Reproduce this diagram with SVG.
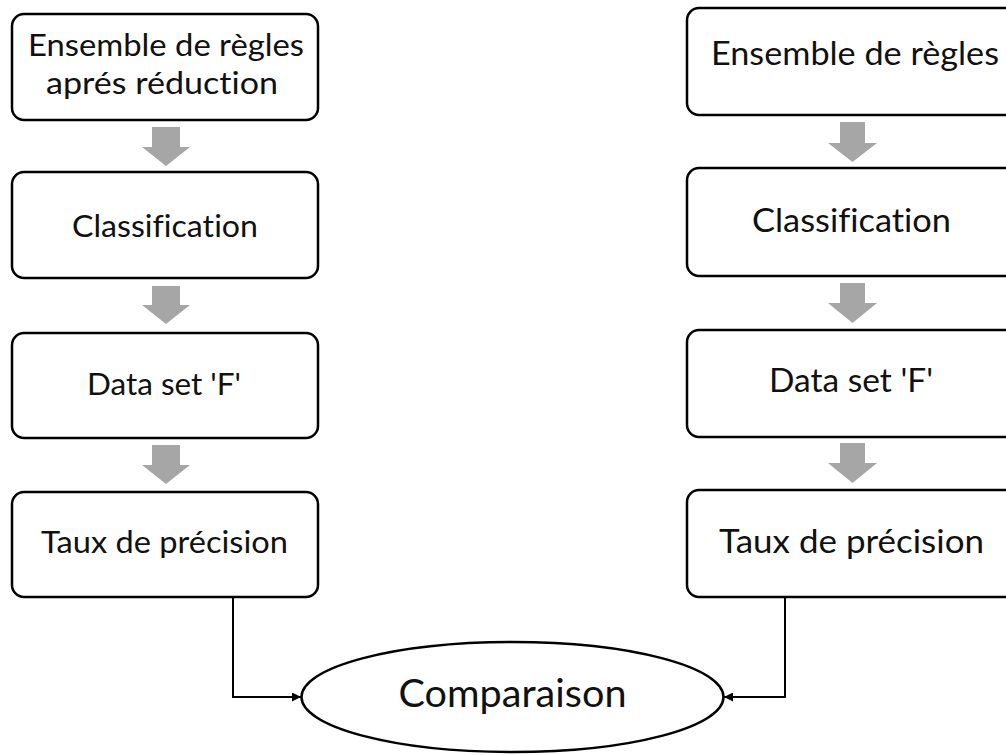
<svg xmlns="http://www.w3.org/2000/svg" width="1006" height="755" viewBox="0 0 1006 755">
  <style>
    .box { fill: #ffffff; stroke: #000000; stroke-width: 2.5; }
    .blk { fill: #a6a6a6; stroke: none; }
    .conn { fill: none; stroke: #000000; stroke-width: 2; }
    .t { font-family: Lato, "Open Sans", "Liberation Sans", sans-serif; fill: #111111; text-anchor: middle; font-variant-ligatures: none; font-feature-settings: "liga" 0, "dlig" 0; }
    .tl { font-size: 31.5px; }
    .tr { font-size: 33.5px; }
    .tc { font-size: 38px; }
  </style>
  <defs>
    <marker id="ah" viewBox="0 0 10 10" refX="10" refY="5" markerWidth="10" markerHeight="9" markerUnits="userSpaceOnUse" orient="auto">
      <path d="M0,0 L10,5 L0,10 z" fill="#000000"/>
    </marker>
  </defs>
  <rect width="1006" height="755" fill="#ffffff"/>

  <!-- Left column -->
  <g id="l-regles-reduction">
    <rect class="box" x="12" y="14" width="306" height="106" rx="12"/>
    <text class="t tl" x="166" y="56" textLength="276" lengthAdjust="spacingAndGlyphs">Ensemble de règles</text>
    <text class="t tl" x="162" y="94" textLength="232" lengthAdjust="spacingAndGlyphs">aprés réduction</text>
  </g>
  <g id="l-classification">
    <rect class="box" x="12" y="172" width="306" height="106" rx="12"/>
    <text class="t tl" x="165" y="237" textLength="186" lengthAdjust="spacingAndGlyphs">Classification</text>
  </g>
  <g id="l-dataset">
    <rect class="box" x="12" y="333" width="306" height="105" rx="12"/>
    <text class="t tl" x="164" y="395" textLength="154" lengthAdjust="spacingAndGlyphs">Data set 'F'</text>
  </g>
  <g id="l-taux">
    <rect class="box" x="12" y="492" width="306" height="105" rx="12"/>
    <text class="t tl" x="164.5" y="553" textLength="247" lengthAdjust="spacingAndGlyphs">Taux de précision</text>
  </g>

  <!-- Right column -->
  <g id="r-regles">
    <rect class="box" x="687" y="8" width="330" height="107" rx="12"/>
    <text class="t tr" x="855" y="65" textLength="288" lengthAdjust="spacingAndGlyphs">Ensemble de règles</text>
  </g>
  <g id="r-classification">
    <rect class="box" x="687" y="168" width="330" height="108" rx="12"/>
    <text class="t tr" x="851.5" y="232" textLength="199" lengthAdjust="spacingAndGlyphs">Classification</text>
  </g>
  <g id="r-dataset">
    <rect class="box" x="687" y="330" width="330" height="107" rx="12"/>
    <text class="t tr" x="851" y="392" textLength="164" lengthAdjust="spacingAndGlyphs">Data set 'F'</text>
  </g>
  <g id="r-taux">
    <rect class="box" x="687" y="490" width="330" height="107" rx="12"/>
    <text class="t tr" x="851.5" y="553" textLength="265" lengthAdjust="spacingAndGlyphs">Taux de précision</text>
  </g>

  <!-- Comparison node -->
  <g id="comparaison">
    <ellipse class="box" cx="512.5" cy="697" rx="211" ry="55"/>
    <text class="t tc" x="512.5" y="707" textLength="228" lengthAdjust="spacingAndGlyphs">Comparaison</text>
  </g>

  <!-- Connectors -->
  <g id="connectors">
    <polygon class="blk" points="152,127 180,127 180,147 190,147 166,166 142,147 152,147"/>
    <polygon class="blk" points="152,286 180,286 180,305 190,305 166,324 142,305 152,305"/>
    <polygon class="blk" points="152,445 180,445 180,465 190,465 166,484 142,465 152,465"/>
    <polygon class="blk" points="840,122 865,122 865,143 877,143 852.5,162 828,143 840,143"/>
    <polygon class="blk" points="840,283 865,283 865,303 877,303 852.5,323 828,303 840,303"/>
    <polygon class="blk" points="840,443 865,443 865,463 877,463 852.5,483 828,463 840,463"/>
    <path class="conn" d="M233,597 V697 H301" marker-end="url(#ah)"/>
    <path class="conn" d="M785,597 V697 H724" marker-end="url(#ah)"/>
  </g>
</svg>
